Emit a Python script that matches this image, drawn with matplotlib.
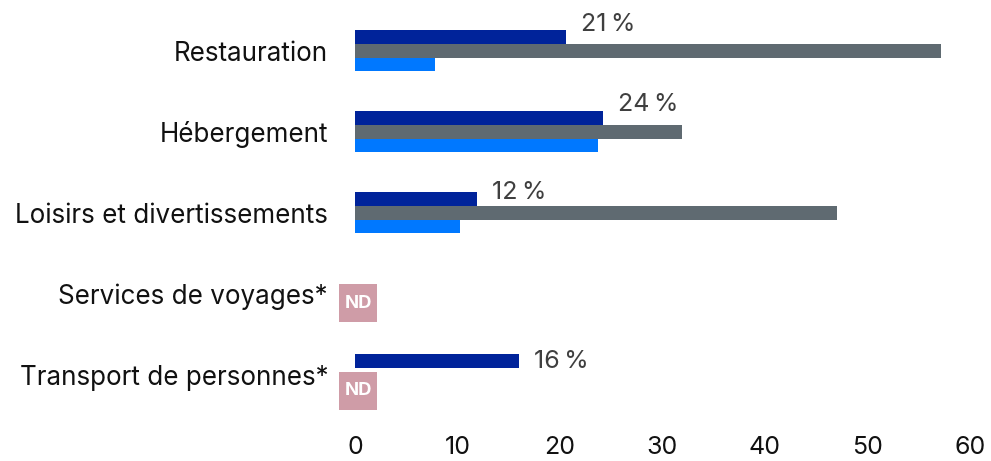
import matplotlib
matplotlib.use("Agg")
import matplotlib.pyplot as plt
from matplotlib.patches import Rectangle
import numpy as np

categories = ["Restauration", "Hébergement", "Loisirs et divertissements",
              "Services de voyages*", "Transport de personnes*"]
series_dark = [20.6, 24.2, 11.95, None, 16.0]
series_gray = [57.2, 31.9, 47.0, None, None]
series_light = [7.8, 23.7, 10.2, None, None]
nd_flags = [False, False, False, True, True]
xticks = [0, 10, 20, 30, 40, 50, 60]

# style
C_DARK = "#00239A"
C_GRAY = "#5F6A71"
C_LIGHT = "#0078FF"
C_ND = "#CF9CA7"
DPI = 100
FONT = "Inter"
bh = 0.169
label_dy = [-0.16, -0.165, -0.085, 0.0, 0.01]
nd_dy = [0, 0, 0, 0.114, 0.198]

def px(p):
    return p * 72 / DPI

fig = plt.figure(figsize=(991 / DPI, 461 / DPI), dpi=DPI)
ax = fig.add_axes([355 / 991, 1 - 423.4 / 461, 615 / 991, 421.2 / 461])

y = np.arange(len(categories))
for vals, off, col in [(series_dark, -bh, C_DARK), (series_gray, 0, C_GRAY), (series_light, bh, C_LIGHT)]:
    for i, v in enumerate(vals):
        if v is not None:
            ax.barh(y[i] + off, v, height=bh, color=col, linewidth=0)

for i, v in enumerate(series_dark):
    if v is not None:
        ax.annotate(f"{round(v)}\u2009%", xy=(v, y[i] - bh + label_dy[i]), xytext=(px(15), 0),
                    textcoords="offset points", ha="left", va="center",
                    fontsize=px(25), color="#3F3F3F", family=FONT)

xw = 38 / 615 * 60
hw = 38 / 81
x0 = -16 / 615 * 60
for i, nd in enumerate(nd_flags):
    if nd:
        cy = y[i] + nd_dy[i]
        r = Rectangle((x0, cy - hw / 2), xw, hw, facecolor=C_ND, edgecolor="none", clip_on=False, zorder=3)
        ax.add_patch(r)
        ax.text(x0 + xw / 2, cy, "ND", ha="center", va="center", color="white",
                fontsize=px(18.5), fontweight="bold", family=FONT, zorder=4)

ax.set_xlim(0, 60)
ax.set_ylim(4.6, -0.6)
ax.set_yticks(y)
ax.set_yticklabels(categories, family=FONT, fontsize=px(26), color="#111111")
ax.set_xticks(xticks)
ax.set_xticklabels([str(t) for t in xticks], family=FONT, fontsize=px(25), color="#111111")
ax.tick_params(axis="y", length=0, pad=px(27))
ax.tick_params(axis="x", length=0, pad=px(13))
for s in ax.spines.values():
    s.set_visible(False)

fig.savefig("out.png", dpi=DPI)
